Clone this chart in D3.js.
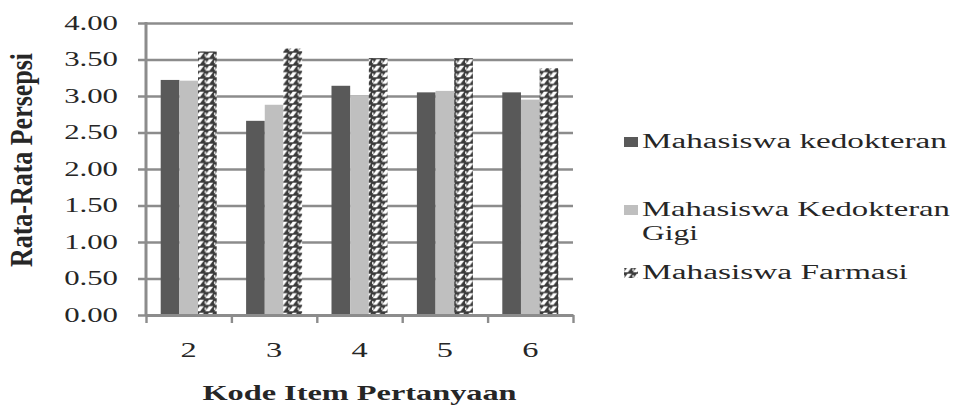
<!DOCTYPE html>
<html>
<head>
<meta charset="utf-8">
<script src="https://cdn.jsdelivr.net/npm/d3@7"></script>
<style>
  html, body { margin: 0; padding: 0; background: #fff; }
  svg { display: block; }
  text { font-family: "Liberation Serif", "DejaVu Serif", serif; fill: #262626; }
</style>
</head>
<body>
<svg id="chart" width="964" height="405"></svg>
<script>
// Question codes and mean perception score per student group
const categories = ["2", "3", "4", "5", "6"];
const kedokteran = [3.22, 2.66, 3.14, 3.05, 3.05];
const kedokteranGigi = [3.21, 2.88, 3.01, 3.07, 2.95];
const farmasi = [3.61, 3.65, 3.52, 3.52, 3.38];
const seriesNames = ["Mahasiswa kedokteran", "Mahasiswa Kedokteran Gigi", "Mahasiswa Farmasi"];
const yTicks = [0, 0.5, 1, 1.5, 2, 2.5, 3, 3.5, 4];
const yTitle = "Rata-Rata Persepsi";
const xTitle = "Kode Item Pertanyaan";

const SX = 1.54;           // wide type
const svg = d3.select("#chart");
const plotL = 146, plotR = 573, plotT = 23, plotB = 315;

// Zig-zag fill for the Farmasi series
const defs = svg.append("defs");
const pat = defs.append("pattern")
  .attr("id", "farmasiFill").attr("patternUnits", "userSpaceOnUse")
  .attr("width", 9.3).attr("height", 6.5);
pat.append("rect").attr("width", 9.3).attr("height", 6.5).attr("fill", "#3a3a3a");
pat.append("polygon").attr("points", "0.6,5.8 4.8,5.8 8.6,0.8 4.4,0.8").attr("fill", "#ffffff");
pat.append("rect").attr("x", 0).attr("y", 2.1).attr("width", 1.5).attr("height", 2.4).attr("fill", "#f2f2f2");

const series = [
  { name: seriesNames[0], values: kedokteran, fill: "#595959" },
  { name: seriesNames[1], values: kedokteranGigi, fill: "#bfbfbf" },
  { name: seriesNames[2], values: farmasi, fill: "url(#farmasiFill)" }
];

const x = d3.scaleBand().domain(categories).range([plotL, plotR]).padding(0);
const x1 = d3.scaleBand().domain(d3.range(series.length))
  .range([14.7, x.bandwidth() - 14.7]).padding(0);
const y = d3.scaleLinear().domain([0, 4]).range([plotB, plotT]);

// Gridlines with tick labels
const yAxis = svg.append("g").attr("transform", `translate(${plotL - 8},0)`)
  .call(d3.axisLeft(y).tickValues(yTicks).tickFormat(d3.format(".2f"))
    .tickSize(-(plotR - plotL + 8)).tickPadding(20));
yAxis.select(".domain").remove();
yAxis.selectAll(".tick line").attr("stroke", "#8c8c8c").attr("stroke-width", 2.4);
yAxis.selectAll(".tick text")
  .attr("font-size", 20).attr("fill", "#262626")
  .attr("font-family", "Liberation Serif, serif")
  .attr("x", -20 / SX).attr("transform", `scale(${SX},1)`);

// Bars
const groups = svg.append("g").selectAll("g").data(series).join("g");
groups.selectAll("rect")
  .data((s, i) => s.values.map((v, j) => ({ v, c: categories[j], i, fill: s.fill })))
  .join("rect")
  .attr("x", d => x(d.c) + x1(d.i))
  .attr("width", x1.bandwidth())
  .attr("y", d => y(d.v))
  .attr("height", d => y(0) - y(d.v))
  .attr("fill", d => d.fill);

// Vertical axis line
svg.append("line").attr("x1", plotL).attr("x2", plotL).attr("y1", plotT - 1).attr("y2", plotB + 1)
  .attr("stroke", "#8c8c8c").attr("stroke-width", 3);

// Category boundary ticks on the x axis
const xb = d3.scaleLinear().domain([0, categories.length]).range([plotL, plotR]);
const xTickAxis = svg.append("g").attr("transform", `translate(0,${plotB})`)
  .call(d3.axisBottom(xb).tickValues(d3.range(categories.length + 1)).tickFormat("").tickSize(8).tickSizeOuter(0));
xTickAxis.select(".domain").attr("stroke", "#8c8c8c").attr("stroke-width", 3);
xTickAxis.selectAll(".tick line").attr("stroke", "#8c8c8c").attr("stroke-width", 2.4);

// Category labels
const xAxis = svg.append("g").attr("transform", `translate(0,${plotB})`)
  .call(d3.axisBottom(x).tickSize(0).tickPadding(0));
xAxis.select(".domain").remove();
xAxis.selectAll(".tick text")
  .attr("font-size", 21).attr("fill", "#262626").attr("dy", null)
  .attr("font-family", "Liberation Serif, serif")
  .attr("y", 42).attr("transform", `scale(${SX},1)`).attr("x", 0);

// Axis titles
svg.append("text")
  .attr("transform", `translate(${(plotL + plotR) / 2},400) scale(${SX},1)`)
  .attr("text-anchor", "middle").attr("font-size", 21).attr("font-weight", "bold")
  .attr("fill", "#1a1a1a").text(xTitle);

svg.append("text")
  .attr("transform", `translate(32,160) scale(${SX},1) rotate(-90)`)
  .attr("text-anchor", "middle").attr("font-size", 20).attr("font-weight", "bold")
  .attr("textLength", 214).attr("lengthAdjust", "spacingAndGlyphs")
  .attr("fill", "#1a1a1a").text(yTitle);

// Legend: each line is stretched horizontally to its set width
const legendRows = [
  { s: series[0], lines: [seriesNames[0]], base: 148, widths: [305] },
  { s: series[1], lines: ["Mahasiswa Kedokteran", "Gigi"], base: 216, widths: [308, 56] },
  { s: series[2], lines: [seriesNames[2]], base: 279, widths: [266] }
];
const legend = svg.append("g");
legendRows.forEach(r => {
  legend.append("rect").attr("x", 624).attr("y", r.base - 11).attr("width", 14).attr("height", 10)
    .attr("fill", r.s.fill);
  r.lines.forEach((ln, k) => {
    const t = legend.append("text")
      .attr("font-size", 20).attr("font-family", "DejaVu Serif, serif")
      .attr("fill", "#262626").text(ln);
    const w = t.node().getComputedTextLength();
    t.attr("transform", `translate(642,${r.base + k * 24}) scale(${r.widths[k] / w},1)`);
  });
});
</script>
</body>
</html>
